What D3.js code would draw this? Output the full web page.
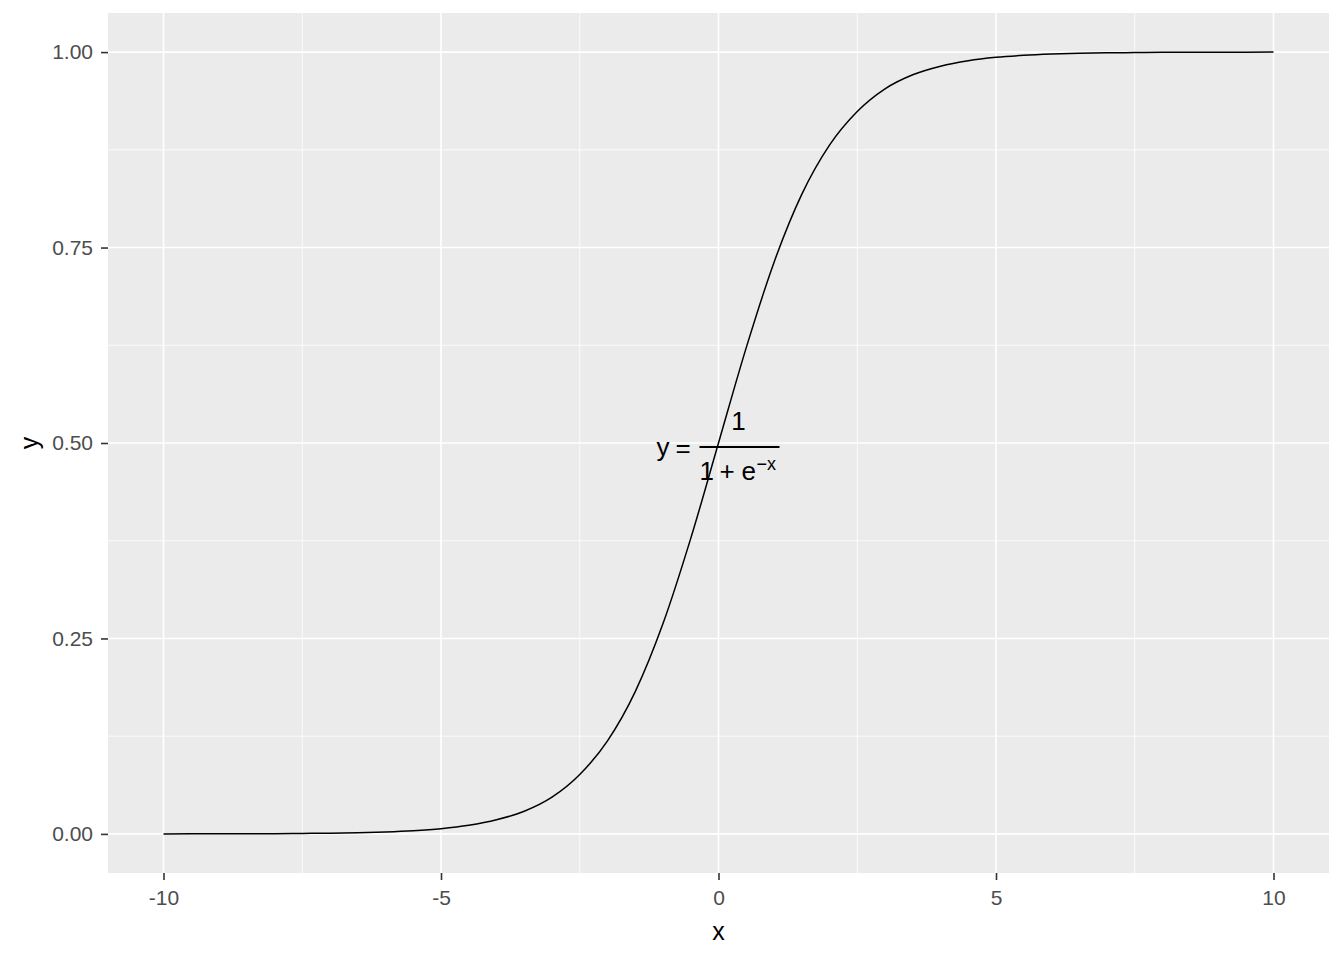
<!DOCTYPE html>
<html lang="en">
<head>
  <meta charset="UTF-8">
  <title>sigmoid</title>
  <script src="https://cdn.jsdelivr.net/npm/d3@7"></script>
  <style type="text/css">
    body { margin: 0; background: #fff; }
    svg { display: block; font-family: "Liberation Sans", Arial, sans-serif; }
    .domain { display: none; }
  </style>
</head>
<body>
  <script>
    // points
    var xs = [-10, -9.5, -9, -8.5, -8, -7.5, -7, -6.5, -6, -5.5, -5, -4.5, -4, -3.5, -3, -2.5, -2, -1.5, -1, -0.5,
      0, 0.5, 1, 1.5, 2, 2.5, 3, 3.5, 4, 4.5, 5, 5.5, 6, 6.5, 7, 7.5, 8, 8.5, 9, 9.5, 10];
    var ys = [0.0000, 0.0001, 0.0001, 0.0002, 0.0003, 0.0006, 0.0009, 0.0015, 0.0025, 0.0041, 0.0067, 0.011, 0.018, 0.029, 0.047, 0.076, 0.119, 0.182, 0.269, 0.378,
      0.5, 0.622, 0.731, 0.818, 0.881, 0.924, 0.953, 0.971, 0.982, 0.989, 0.9933, 0.9959, 0.9975, 0.9985, 0.9991, 0.9994, 0.9997, 0.9998, 0.9999, 0.9999, 1.0000];
    var xTicks = [-10, -5, 0, 5, 10];
    var xMinor = [-7.5, -2.5, 2.5, 7.5];
    var yTicks = [0, 0.25, 0.5, 0.75, 1];
    var yMinor = [0.125, 0.375, 0.625, 0.875];

    var w = 1344, h = 960;
    var pLeft = 108, pRight = 1329, pTop = 13, pBottom = 873;

    var svg = d3.select('body').append('svg')
      .attr('width', w)
      .attr('height', h);

    var x = d3.scaleLinear().domain([-11, 11]).range([pLeft, pRight]);
    var y = d3.scaleLinear().domain([-0.05, 1.05]).range([pBottom, pTop]);

    svg.append('rect')
      .attr('x', pLeft).attr('y', pTop)
      .attr('width', pRight - pLeft).attr('height', pBottom - pTop)
      .attr('fill', '#ebebeb');

    var grid = svg.append('g');
    grid.selectAll('.vminor').data(xMinor).enter().append('line')
      .attr('x1', d => x(d)).attr('x2', d => x(d))
      .attr('y1', pTop).attr('y2', pBottom)
      .attr('stroke', '#fff').attr('stroke-width', 0.8);
    grid.selectAll('.hminor').data(yMinor).enter().append('line')
      .attr('y1', d => y(d)).attr('y2', d => y(d))
      .attr('x1', pLeft).attr('x2', pRight)
      .attr('stroke', '#fff').attr('stroke-width', 0.8);
    grid.selectAll('.vmajor').data(xTicks).enter().append('line')
      .attr('x1', d => x(d)).attr('x2', d => x(d))
      .attr('y1', pTop).attr('y2', pBottom)
      .attr('stroke', '#fff').attr('stroke-width', 1.6);
    grid.selectAll('.hmajor').data(yTicks).enter().append('line')
      .attr('y1', d => y(d)).attr('y2', d => y(d))
      .attr('x1', pLeft).attr('x2', pRight)
      .attr('stroke', '#fff').attr('stroke-width', 1.6);

    var xAxis = svg.append('g')
      .attr('transform', 'translate(0,' + pBottom + ')')
      .call(d3.axisBottom(x).tickValues(xTicks).tickSize(7).tickPadding(10).tickFormat(d => String(d)));

    var yAxis = svg.append('g')
      .attr('transform', 'translate(' + pLeft + ',0)')
      .call(d3.axisLeft(y).tickValues(yTicks).tickSize(7).tickPadding(8).tickFormat(d => d.toFixed(2)));

    [xAxis, yAxis].forEach(function (g) {
      g.attr('font-size', 21).attr('font-family', '"Liberation Sans", Arial, sans-serif');
      g.selectAll('.tick line').attr('stroke', '#333').attr('stroke-width', 1.6);
      g.selectAll('.tick text').attr('fill', '#4d4d4d');
    });

    var line = d3.line()
      .x((d, i) => x(xs[i]))
      .y(d => y(d))
      .curve(d3.curveMonotoneX);

    svg.append('path')
      .datum(ys)
      .attr('d', line)
      .attr('fill', 'none')
      .attr('stroke', '#000')
      .attr('stroke-width', 1.5);

    // formula label centred on (0, 0.5)
    var cx = x(0), cy = y(0.5);
    var f = svg.append('g').attr('font-size', 26).attr('fill', '#000');
    f.append('text').attr('x', cx - 62).attr('y', cy + 13).text('y');
    f.append('text').attr('x', cx - 43).attr('y', cy + 14).text('=');
    f.append('line')
      .attr('x1', cx - 19).attr('x2', cx + 61)
      .attr('y1', cy + 4).attr('y2', cy + 4)
      .attr('stroke', '#000').attr('stroke-width', 2);
    f.append('text').attr('x', cx + 20).attr('y', cy - 13).attr('text-anchor', 'middle').text('1');
    f.append('text').attr('x', cx - 19).attr('y', cy + 37).text('1');
    f.append('text').attr('x', cx + 1).attr('y', cy + 37).text('+');
    f.append('text').attr('x', cx + 23).attr('y', cy + 37).text('e');
    f.append('text').attr('x', cx + 38).attr('y', cy + 27).attr('font-size', 18).text('\u2212x');

    svg.append('text')
      .attr('x', (pLeft + pRight) / 2).attr('y', 940)
      .attr('text-anchor', 'middle').attr('font-size', 25).attr('fill', '#000')
      .text('x');
    svg.append('text')
      .attr('transform', 'translate(38,' + ((pTop + pBottom) / 2) + ') rotate(-90)')
      .attr('text-anchor', 'middle').attr('font-size', 25).attr('fill', '#000')
      .text('y');
  </script>
</body>
</html>
